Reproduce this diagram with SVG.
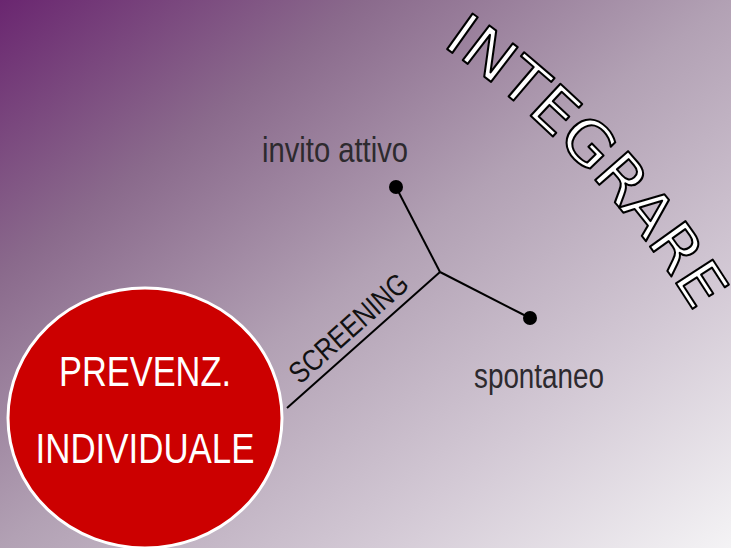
<svg xmlns="http://www.w3.org/2000/svg" width="731" height="548" viewBox="0 0 731 548">
  <defs>
    <linearGradient id="bg" x1="0" y1="0" x2="1" y2="1">
      <stop offset="0" stop-color="#6a2670"/>
      <stop offset="0.25" stop-color="#8a6a8c"/>
      <stop offset="0.5" stop-color="#b2a1b4"/>
      <stop offset="0.75" stop-color="#d3c9d5"/>
      <stop offset="1" stop-color="#f4f3f5"/>
    </linearGradient>
    <path id="arc" d="M 442 45.5 A 900 900 0 0 1 705 330" fill="none"/>
  </defs>
  <style>
    .narrow { font-family: "Liberation Sans", Arial, sans-serif; }
    .label { font-size: 35px; fill: #2d2a2e; }
    .conn { stroke: #000; stroke-width: 2; fill: none; }
    .dot { fill: #000; }
    .big { font-size: 42px; fill: #fff; }
  </style>
  <rect width="731" height="548" fill="url(#bg)"/>

  <g id="integrare">
    <text font-family="'DejaVu Sans', sans-serif" font-size="60" fill="#fff" stroke="#000" stroke-width="2" stroke-linejoin="round">
      <textPath href="#arc" textLength="370" lengthAdjust="spacingAndGlyphs">INTEGRARE</textPath>
    </text>
  </g>

  <g id="connectors">
    <line class="conn" x1="287" y1="408" x2="440" y2="272"/>
    <line class="conn" x1="440" y1="272" x2="396" y2="187"/>
    <line class="conn" x1="440" y1="272" x2="530" y2="318"/>
  </g>

  <g id="screening">
    <text class="narrow" font-size="30" fill="#111" textLength="148" lengthAdjust="spacingAndGlyphs" transform="translate(300 385) rotate(-41.6)">SCREENING</text>
  </g>

  <g id="invito">
    <circle class="dot" cx="396" cy="187" r="7"/>
    <text class="narrow label" x="262" y="162" textLength="146" lengthAdjust="spacingAndGlyphs">invito attivo</text>
  </g>

  <g id="spontaneo">
    <circle class="dot" cx="530" cy="318" r="7"/>
    <text class="narrow label" x="474" y="388" textLength="130" lengthAdjust="spacingAndGlyphs">spontaneo</text>
  </g>

  <g id="prevenzione">
    <ellipse cx="145" cy="418" rx="137" ry="130" fill="#cc0000" stroke="#fff" stroke-width="3"/>
    <text class="narrow big" x="145" y="386" text-anchor="middle" textLength="172" lengthAdjust="spacingAndGlyphs">PREVENZ.</text>
    <text class="narrow big" x="145" y="463" text-anchor="middle" textLength="219" lengthAdjust="spacingAndGlyphs">INDIVIDUALE</text>
  </g>
</svg>
